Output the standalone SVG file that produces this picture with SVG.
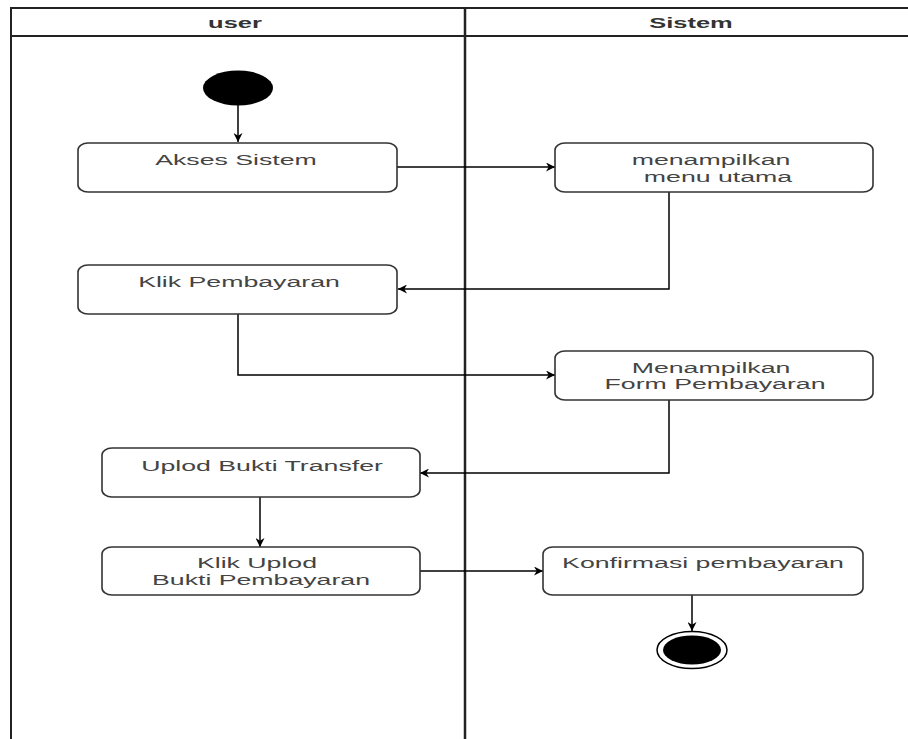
<svg xmlns="http://www.w3.org/2000/svg" width="908" height="739" viewBox="0 0 908 739">
<defs>
<marker id="arr" viewBox="0 0 10 10" refX="10" refY="5" markerWidth="10" markerHeight="9" markerUnits="userSpaceOnUse" orient="auto">
<path d="M0,0 L10,5 L0,10 L3,5 z" fill="#000"/>
</marker>
<style>
.box{fill:#fff;stroke:#333;stroke-width:1.6}
.lbl{font-family:"Liberation Sans",Arial,sans-serif;font-size:15px;fill:#444;text-anchor:middle}
.hdr{font-family:"Liberation Sans",Arial,sans-serif;font-size:15px;font-weight:bold;fill:#333;text-anchor:middle}
.ln{fill:none;stroke:#000;stroke-width:1.5}
.frame{fill:none;stroke:#222;stroke-width:2}
</style>
</defs>
<rect width="908" height="739" fill="#fff"/>
<g id="swimlanes">
<line class="frame" x1="10" y1="8" x2="908" y2="8"/>
<line class="frame" x1="10" y1="36" x2="908" y2="36"/>
<line class="frame" x1="11" y1="8" x2="11" y2="739"/>
<line class="frame" x1="465" y1="8" x2="465" y2="739" style="stroke-width:2.5"/>
<text class="hdr" transform="translate(235,28) scale(1.7,1)">user</text>
<text class="hdr" transform="translate(691,28) scale(1.7,1)">Sistem</text>
</g>
<g id="connectors">
<path class="ln" d="M238,105 L238,142" marker-end="url(#arr)"/>
<path class="ln" d="M397,167 L555,167" marker-end="url(#arr)"/>
<path class="ln" d="M669,192 L669,289 L398,289" marker-end="url(#arr)"/>
<path class="ln" d="M238,314 L238,375 L555,375" marker-end="url(#arr)"/>
<path class="ln" d="M669,400 L669,473 L420,473" marker-end="url(#arr)"/>
<path class="ln" d="M260,497 L260,547" marker-end="url(#arr)"/>
<path class="ln" d="M420,571 L543,571" marker-end="url(#arr)"/>
<path class="ln" d="M692,595 L692,631" marker-end="url(#arr)"/>
</g>
<g id="start">
<ellipse cx="238" cy="88" rx="35" ry="17.5" fill="#000"/>
</g>
<g id="akses">
<rect class="box" x="78" y="143" width="319" height="49" rx="10" ry="7"/>
<text class="lbl" transform="translate(236,165) scale(1.78,1)">Akses Sistem</text>
</g>
<g id="menu">
<rect class="box" x="555" y="143" width="318" height="49" rx="10" ry="7"/>
<text class="lbl" transform="translate(711,165) scale(1.78,1)">menampilkan</text>
<text class="lbl" transform="translate(718,182) scale(1.78,1)">menu utama</text>
</g>
<g id="klik">
<rect class="box" x="78" y="265" width="319" height="49" rx="10" ry="7"/>
<text class="lbl" transform="translate(239,287) scale(1.78,1)">Klik Pembayaran</text>
</g>
<g id="form">
<rect class="box" x="555" y="351" width="318" height="49" rx="10" ry="7"/>
<text class="lbl" transform="translate(711,373) scale(1.78,1)">Menampilkan</text>
<text class="lbl" transform="translate(715,389) scale(1.78,1)">Form Pembayaran</text>
</g>
<g id="uplod">
<rect class="box" x="102" y="448" width="318" height="49" rx="10" ry="7"/>
<text class="lbl" transform="translate(262,471) scale(1.78,1)">Uplod Bukti Transfer</text>
</g>
<g id="klikuplod">
<rect class="box" x="102" y="547" width="318" height="48" rx="10" ry="7"/>
<text class="lbl" transform="translate(257,568) scale(1.78,1)">Klik Uplod</text>
<text class="lbl" transform="translate(261,585) scale(1.78,1)">Bukti Pembayaran</text>
</g>
<g id="konfirmasi">
<rect class="box" x="543" y="547" width="320" height="48" rx="10" ry="7"/>
<text class="lbl" transform="translate(703,568) scale(1.78,1)">Konfirmasi pembayaran</text>
</g>
<g id="end">
<ellipse cx="692" cy="650" rx="35" ry="18.5" fill="#fff" stroke="#000" stroke-width="1.5"/>
<ellipse cx="692" cy="650" rx="29" ry="14.5" fill="#000"/>
</g>
</svg>
